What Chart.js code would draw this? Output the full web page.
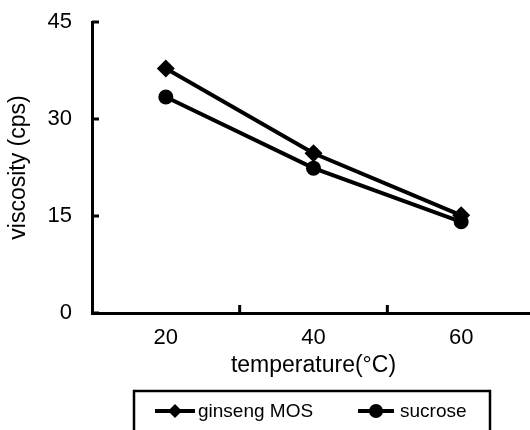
<!DOCTYPE html>
<html>
<head>
<meta charset="utf-8">
<script src="https://cdn.jsdelivr.net/npm/chart.js"></script>
<style>
	html, body { margin: 0; padding: 0; background: #fff; overflow: hidden; }
	#wrap { width: 530px; height: 430px; overflow: hidden; }
</style>
</head>
<body>
<div id="wrap"><canvas id="chart" width="535" height="430"></canvas></div>
<script>
const temperatures = [ '20', '40', '60' ];
const ginsengMOS = [ 37.8, 24.7, 15.1 ];
const sucrose = [ 33.4, 22.4, 14.1 ];
const viscosityMin = 0;
const viscosityMax = 45;
const viscosityStep = 15;

const FONT = '"Liberation Sans", Arial, sans-serif';

// inward tick marks + boxed legend, like the scanned original
const extras = {
	id: 'extras',
	afterDraw( chart ) {
		const { ctx, chartArea, scales } = chart;
		const x = scales.x;
		const y = scales.y;
		ctx.save();
		ctx.strokeStyle = '#000';
		ctx.lineWidth = 3;
		ctx.lineCap = 'butt';

		y.ticks.forEach( ( t ) => {
			const py = y.getPixelForValue( t.value );
			ctx.beginPath();
			ctx.moveTo( chartArea.left, py );
			ctx.lineTo( chartArea.left + 7, py );
			ctx.stroke();
		} );

		for ( let i = 1; i < temperatures.length; i++ ) {
			const px = ( x.getPixelForValue( i - 1 ) + x.getPixelForValue( i ) ) / 2;
			ctx.beginPath();
			ctx.moveTo( px, chartArea.bottom );
			ctx.lineTo( px, chartArea.bottom - 8 );
			ctx.stroke();
		}

		// legend box
		ctx.lineWidth = 2.5;
		ctx.strokeRect( 134, 391, 356, 60 );

		const items = [
			{ ds: chart.data.datasets[ 0 ], x0: 155, x1: 195, tx: 198 },
			{ ds: chart.data.datasets[ 1 ], x0: 358, x1: 394, tx: 400 },
		];
		const ly = 411;
		ctx.fillStyle = '#000';
		ctx.font = '19px ' + FONT;
		ctx.textBaseline = 'middle';
		items.forEach( ( it ) => {
			ctx.lineWidth = 4;
			ctx.beginPath();
			ctx.moveTo( it.x0, ly );
			ctx.lineTo( it.x1, ly );
			ctx.stroke();
			const cx = ( it.x0 + it.x1 ) / 2;
			const r = 7;
			ctx.beginPath();
			if ( it.ds.pointStyle === 'rectRot' ) {
				ctx.moveTo( cx, ly - r );
				ctx.lineTo( cx + r, ly );
				ctx.lineTo( cx, ly + r );
				ctx.lineTo( cx - r, ly );
				ctx.closePath();
			} else {
				ctx.arc( cx, ly, r, 0, Math.PI * 2 );
			}
			ctx.fill();
			ctx.fillText( it.ds.label, it.tx, ly + 1 );
		} );
		ctx.restore();
	},
};

new Chart( document.getElementById( 'chart' ), {
	type: 'line',
	data: {
		labels: temperatures,
		datasets: [
			{
				label: 'ginseng MOS',
				data: ginsengMOS,
				borderColor: '#000',
				backgroundColor: '#000',
				borderWidth: 4,
				pointStyle: 'rectRot',
				pointRadius: 9,
				pointBorderWidth: 0,
				tension: 0,
			},
			{
				label: 'sucrose',
				data: sucrose,
				borderColor: '#000',
				backgroundColor: '#000',
				borderWidth: 4,
				pointStyle: 'circle',
				pointRadius: 7.5,
				pointBorderWidth: 0,
				tension: 0,
			},
		],
	},
	options: {
		responsive: false,
		animation: false,
		layout: {
			autoPadding: false,
			padding: { top: 22, left: 0, right: 0, bottom: 0 },
		},
		plugins: {
			legend: { display: false },
			tooltip: { enabled: false },
		},
		scales: {
			x: {
				type: 'category',
				offset: true,
				grid: { display: false, drawTicks: false },
				border: { display: true, color: '#000', width: 3 },
				ticks: {
					color: '#000',
					padding: 12,
					font: { family: FONT, size: 22 },
				},
				title: {
					display: true,
					text: 'temperature(°C)',
					color: '#000',
					font: { family: FONT, size: 23 },
					padding: { top: 0, bottom: 51 },
				},
				afterFit( scale ) {
					scale.height = 117;
					scale.paddingRight = 0;
					scale.paddingLeft = 0;
				},
			},
			y: {
				min: viscosityMin,
				max: viscosityMax,
				grid: { display: false, drawTicks: false },
				border: { display: true, color: '#000', width: 3 },
				ticks: {
					stepSize: viscosityStep,
					color: '#000',
					padding: 20,
					font: { family: FONT, size: 22 },
				},
				title: {
					display: true,
					text: 'viscosity (cps)',
					color: '#000',
					font: { family: FONT, size: 23 },
					padding: { top: 5, bottom: 0 },
				},
				afterFit( scale ) {
					scale.width = 92;
					scale.paddingTop = 0;
					scale.paddingBottom = 0;
				},
			},
		},
	},
	plugins: [ extras ],
} );
</script>
</body>
</html>
